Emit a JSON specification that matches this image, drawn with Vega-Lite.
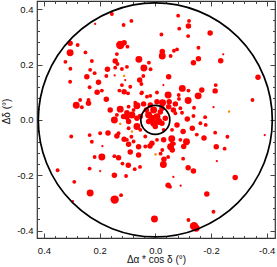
{
  "$schema": "https://vega.github.io/schema/vega-lite/v6.json",
  "width": 238,
  "height": 237,
  "autosize": "none",
  "padding": {"left": 37, "top": 1, "right": 2, "bottom": 29},
  "background": "white",
  "config": {
    "view": {"stroke": "#333333", "strokeWidth": 1.2},
    "font": "Liberation Sans",
    "axis": {"grid": false, "domain": false, "tickColor": "#444444", "tickWidth": 1, "labelFont": "Liberation Sans", "labelFontSize": 9.5, "labelColor": "#111111", "titleFont": "Liberation Sans", "titleFontSize": 10, "titleFontWeight": "normal", "titleColor": "#111111", "labelFlush": false, "labelOverlap": false}
  },
  "datasets": {
    "stars": [
      {"dra":0.156,"ddec":0.383,"flux":2,"cls":"red"},
      {"dra":0.216,"ddec":0.347,"flux":1,"cls":"red"},
      {"dra":0.114,"ddec":0.343,"flux":2,"cls":"red"},
      {"dra":0.086,"ddec":0.358,"flux":2,"cls":"red"},
      {"dra":0.306,"ddec":0.277,"flux":3,"cls":"red"},
      {"dra":0.279,"ddec":0.271,"flux":2,"cls":"red"},
      {"dra":0.126,"ddec":0.271,"flux":5,"cls":"red"},
      {"dra":0.112,"ddec":0.279,"flux":3,"cls":"red"},
      {"dra":0.100,"ddec":0.265,"flux":2,"cls":"red"},
      {"dra":0.306,"ddec":0.243,"flux":4,"cls":"red"},
      {"dra":0.251,"ddec":0.244,"flux":2,"cls":"red"},
      {"dra":0.138,"ddec":0.238,"flux":2,"cls":"red"},
      {"dra":0.144,"ddec":0.213,"flux":3,"cls":"red"},
      {"dra":0.059,"ddec":0.219,"flux":4,"cls":"red"},
      {"dra":0.323,"ddec":0.210,"flux":2,"cls":"red"},
      {"dra":0.228,"ddec":0.213,"flux":2,"cls":"red"},
      {"dra":0.136,"ddec":0.202,"flux":2,"cls":"red"},
      {"dra":0.305,"ddec":0.185,"flux":2,"cls":"red"},
      {"dra":0.172,"ddec":0.183,"flux":3,"cls":"red"},
      {"dra":0.144,"ddec":0.189,"flux":2,"cls":"red"},
      {"dra":0.120,"ddec":0.184,"flux":2,"cls":"red"},
      {"dra":0.102,"ddec":0.192,"flux":2,"cls":"red"},
      {"dra":0.234,"ddec":0.181,"flux":2,"cls":"red"},
      {"dra":0.218,"ddec":0.169,"flux":2,"cls":"red"},
      {"dra":0.112,"ddec":0.159,"flux":1,"cls":"orange"},
      {"dra":0.246,"ddec":0.156,"flux":3,"cls":"red"},
      {"dra":0.176,"ddec":0.159,"flux":2,"cls":"red"},
      {"dra":0.146,"ddec":0.161,"flux":1,"cls":"red"},
      {"dra":0.108,"ddec":0.144,"flux":1,"cls":"red"},
      {"dra":0.056,"ddec":0.144,"flux":3,"cls":"red"},
      {"dra":0.306,"ddec":0.138,"flux":2,"cls":"red"},
      {"dra":0.204,"ddec":0.136,"flux":3,"cls":"red"},
      {"dra":0.236,"ddec":0.118,"flux":2,"cls":"red"},
      {"dra":0.120,"ddec":0.126,"flux":2,"cls":"red"},
      {"dra":0.192,"ddec":0.106,"flux":2,"cls":"red"},
      {"dra":0.129,"ddec":0.106,"flux":2,"cls":"red"},
      {"dra":0.112,"ddec":0.102,"flux":3,"cls":"red"},
      {"dra":0.090,"ddec":0.120,"flux":2,"cls":"red"},
      {"dra":0.209,"ddec":0.100,"flux":3,"cls":"red"},
      {"dra":0.270,"ddec":0.072,"flux":2,"cls":"red"},
      {"dra":0.240,"ddec":0.072,"flux":2,"cls":"red"},
      {"dra":0.176,"ddec":0.075,"flux":3,"cls":"red"},
      {"dra":0.284,"ddec":0.053,"flux":4,"cls":"red"},
      {"dra":0.240,"ddec":0.060,"flux":3,"cls":"red"},
      {"dra":0.264,"ddec":0.046,"flux":2,"cls":"red"},
      {"dra":0.162,"ddec":0.036,"flux":3,"cls":"red"},
      {"dra":0.126,"ddec":0.039,"flux":4,"cls":"red"},
      {"dra":0.102,"ddec":0.026,"flux":3,"cls":"red"},
      {"dra":0.066,"ddec":0.051,"flux":4,"cls":"red"},
      {"dra":0.138,"ddec":0.018,"flux":2,"cls":"red"},
      {"dra":0.147,"ddec":0.000,"flux":4,"cls":"red"},
      {"dra":0.114,"ddec":0.012,"flux":3,"cls":"red"},
      {"dra":0.102,"ddec":0.010,"flux":3,"cls":"red"},
      {"dra":0.084,"ddec":0.018,"flux":4,"cls":"red"},
      {"dra":0.066,"ddec":0.006,"flux":3,"cls":"red"},
      {"dra":0.126,"ddec":-0.014,"flux":1,"cls":"orange"},
      {"dra":0.096,"ddec":-0.006,"flux":3,"cls":"red"},
      {"dra":0.066,"ddec":-0.024,"flux":4,"cls":"red"},
      {"dra":0.132,"ddec":-0.048,"flux":2,"cls":"red"},
      {"dra":0.198,"ddec":-0.048,"flux":2,"cls":"red"},
      {"dra":0.098,"ddec":0.096,"flux":2,"cls":"red"},
      {"dra":0.048,"ddec":0.099,"flux":2,"cls":"red"},
      {"dra":0.030,"ddec":0.084,"flux":2,"cls":"red"},
      {"dra":0.018,"ddec":0.087,"flux":2,"cls":"red"},
      {"dra":-0.006,"ddec":0.099,"flux":2,"cls":"red"},
      {"dra":-0.046,"ddec":0.090,"flux":4,"cls":"red"},
      {"dra":-0.084,"ddec":0.090,"flux":2,"cls":"red"},
      {"dra":0.072,"ddec":0.062,"flux":2,"cls":"red"},
      {"dra":0.042,"ddec":0.058,"flux":3,"cls":"red"},
      {"dra":0.018,"ddec":0.054,"flux":3,"cls":"red"},
      {"dra":-0.006,"ddec":0.066,"flux":3,"cls":"red"},
      {"dra":-0.026,"ddec":0.062,"flux":4,"cls":"red"},
      {"dra":-0.050,"ddec":0.066,"flux":3,"cls":"red"},
      {"dra":-0.072,"ddec":0.058,"flux":3,"cls":"red"},
      {"dra":-0.090,"ddec":0.042,"flux":2,"cls":"red"},
      {"dra":0.096,"ddec":0.048,"flux":2,"cls":"red"},
      {"dra":0.078,"ddec":0.036,"flux":2,"cls":"red"},
      {"dra":0.006,"ddec":0.036,"flux":4,"cls":"red"},
      {"dra":-0.024,"ddec":0.042,"flux":3,"cls":"red"},
      {"dra":-0.048,"ddec":0.048,"flux":3,"cls":"red"},
      {"dra":-0.072,"ddec":0.024,"flux":2,"cls":"red"},
      {"dra":-0.096,"ddec":0.026,"flux":2,"cls":"red"},
      {"dra":0.054,"ddec":0.012,"flux":3,"cls":"red"},
      {"dra":0.024,"ddec":0.018,"flux":4,"cls":"red"},
      {"dra":0.012,"ddec":0.006,"flux":4,"cls":"red"},
      {"dra":-0.006,"ddec":0.012,"flux":4,"cls":"red"},
      {"dra":-0.012,"ddec":-0.006,"flux":4,"cls":"red"},
      {"dra":0.006,"ddec":-0.012,"flux":4,"cls":"red"},
      {"dra":0.024,"ddec":-0.006,"flux":3,"cls":"red"},
      {"dra":-0.024,"ddec":-0.012,"flux":3,"cls":"red"},
      {"dra":0.000,"ddec":-0.024,"flux":3,"cls":"red"},
      {"dra":-0.036,"ddec":0.006,"flux":3,"cls":"red"},
      {"dra":-0.030,"ddec":-0.036,"flux":2,"cls":"red"},
      {"dra":-0.078,"ddec":-0.018,"flux":3,"cls":"red"},
      {"dra":-0.060,"ddec":-0.036,"flux":2,"cls":"red"},
      {"dra":0.084,"ddec":-0.042,"flux":1,"cls":"orange"},
      {"dra":0.096,"ddec":-0.030,"flux":2,"cls":"red"},
      {"dra":0.054,"ddec":-0.036,"flux":2,"cls":"red"},
      {"dra":0.102,"ddec":-0.072,"flux":2,"cls":"red"},
      {"dra":0.078,"ddec":-0.078,"flux":2,"cls":"red"},
      {"dra":0.036,"ddec":-0.060,"flux":2,"cls":"red"},
      {"dra":0.012,"ddec":-0.084,"flux":3,"cls":"red"},
      {"dra":-0.006,"ddec":-0.072,"flux":2,"cls":"red"},
      {"dra":-0.030,"ddec":-0.072,"flux":3,"cls":"red"},
      {"dra":-0.060,"ddec":-0.084,"flux":2,"cls":"red"},
      {"dra":-0.090,"ddec":-0.072,"flux":2,"cls":"red"},
      {"dra":-0.102,"ddec":-0.096,"flux":3,"cls":"red"},
      {"dra":0.036,"ddec":-0.096,"flux":2,"cls":"red"},
      {"dra":-0.018,"ddec":0.029,"flux":3,"cls":"red"},
      {"dra":0.032,"ddec":0.036,"flux":3,"cls":"red"},
      {"dra":-0.082,"ddec":0.377,"flux":2,"cls":"red"},
      {"dra":-0.121,"ddec":0.358,"flux":2,"cls":"red"},
      {"dra":-0.119,"ddec":0.340,"flux":3,"cls":"red"},
      {"dra":-0.086,"ddec":0.330,"flux":2,"cls":"red"},
      {"dra":-0.197,"ddec":0.314,"flux":3,"cls":"red"},
      {"dra":-0.022,"ddec":0.309,"flux":2,"cls":"red"},
      {"dra":-0.118,"ddec":0.303,"flux":2,"cls":"red"},
      {"dra":-0.155,"ddec":0.261,"flux":2,"cls":"red"},
      {"dra":-0.078,"ddec":0.255,"flux":2,"cls":"red"},
      {"dra":-0.067,"ddec":0.250,"flux":2,"cls":"red"},
      {"dra":-0.025,"ddec":0.247,"flux":3,"cls":"red"},
      {"dra":-0.025,"ddec":0.231,"flux":4,"cls":"red"},
      {"dra":-0.055,"ddec":0.231,"flux":2,"cls":"red"},
      {"dra":-0.244,"ddec":0.237,"flux":1,"cls":"red"},
      {"dra":-0.155,"ddec":0.221,"flux":3,"cls":"red"},
      {"dra":-0.235,"ddec":0.214,"flux":3,"cls":"red"},
      {"dra":0.023,"ddec":0.207,"flux":2,"cls":"red"},
      {"dra":-0.137,"ddec":0.207,"flux":3,"cls":"red"},
      {"dra":0.041,"ddec":0.188,"flux":4,"cls":"red"},
      {"dra":0.017,"ddec":0.183,"flux":2,"cls":"red"},
      {"dra":0.043,"ddec":0.159,"flux":2,"cls":"red"},
      {"dra":-0.048,"ddec":0.156,"flux":3,"cls":"red"},
      {"dra":-0.369,"ddec":0.154,"flux":3,"cls":"red"},
      {"dra":-0.029,"ddec":0.126,"flux":1,"cls":"red"},
      {"dra":0.050,"ddec":0.130,"flux":2,"cls":"red"},
      {"dra":-0.097,"ddec":0.114,"flux":4,"cls":"red"},
      {"dra":-0.119,"ddec":0.106,"flux":2,"cls":"red"},
      {"dra":-0.167,"ddec":0.108,"flux":3,"cls":"red"},
      {"dra":-0.217,"ddec":0.126,"flux":2,"cls":"red"},
      {"dra":-0.215,"ddec":0.105,"flux":3,"cls":"red"},
      {"dra":-0.154,"ddec":0.087,"flux":4,"cls":"red"},
      {"dra":0.050,"ddec":0.096,"flux":2,"cls":"red"},
      {"dra":-0.349,"ddec":0.072,"flux":2,"cls":"red"},
      {"dra":-0.085,"ddec":0.076,"flux":2,"cls":"red"},
      {"dra":-0.118,"ddec":0.070,"flux":4,"cls":"red"},
      {"dra":-0.139,"ddec":0.044,"flux":2,"cls":"red"},
      {"dra":-0.209,"ddec":0.046,"flux":1,"cls":"red"},
      {"dra":-0.265,"ddec":0.030,"flux":1,"cls":"orange"},
      {"dra":-0.065,"ddec":0.036,"flux":3,"cls":"red"},
      {"dra":-0.179,"ddec":0.010,"flux":2,"cls":"red"},
      {"dra":-0.115,"ddec":0.003,"flux":3,"cls":"red"},
      {"dra":-0.137,"ddec":0.014,"flux":2,"cls":"red"},
      {"dra":-0.181,"ddec":-0.018,"flux":2,"cls":"red"},
      {"dra":-0.133,"ddec":-0.030,"flux":3,"cls":"red"},
      {"dra":-0.100,"ddec":-0.042,"flux":3,"cls":"red"},
      {"dra":-0.215,"ddec":-0.046,"flux":2,"cls":"red"},
      {"dra":-0.162,"ddec":-0.012,"flux":2,"cls":"red"},
      {"dra":0.302,"ddec":-0.060,"flux":2,"cls":"red"},
      {"dra":0.236,"ddec":-0.055,"flux":2,"cls":"red"},
      {"dra":0.170,"ddec":-0.047,"flux":3,"cls":"red"},
      {"dra":0.138,"ddec":-0.058,"flux":3,"cls":"red"},
      {"dra":0.112,"ddec":-0.070,"flux":3,"cls":"red"},
      {"dra":0.086,"ddec":-0.061,"flux":2,"cls":"red"},
      {"dra":0.228,"ddec":-0.079,"flux":2,"cls":"red"},
      {"dra":0.096,"ddec":-0.088,"flux":3,"cls":"red"},
      {"dra":0.190,"ddec":-0.095,"flux":1,"cls":"red"},
      {"dra":0.060,"ddec":-0.097,"flux":3,"cls":"red"},
      {"dra":0.218,"ddec":-0.134,"flux":2,"cls":"red"},
      {"dra":0.192,"ddec":-0.134,"flux":4,"cls":"red"},
      {"dra":0.147,"ddec":-0.131,"flux":2,"cls":"red"},
      {"dra":0.132,"ddec":-0.137,"flux":3,"cls":"red"},
      {"dra":0.090,"ddec":-0.116,"flux":3,"cls":"red"},
      {"dra":0.060,"ddec":-0.127,"flux":3,"cls":"red"},
      {"dra":0.118,"ddec":-0.158,"flux":2,"cls":"red"},
      {"dra":0.097,"ddec":-0.164,"flux":3,"cls":"red"},
      {"dra":0.236,"ddec":-0.176,"flux":2,"cls":"red"},
      {"dra":0.198,"ddec":-0.185,"flux":1,"cls":"red"},
      {"dra":0.074,"ddec":-0.178,"flux":2,"cls":"red"},
      {"dra":0.351,"ddec":-0.182,"flux":2,"cls":"red"},
      {"dra":0.147,"ddec":-0.200,"flux":3,"cls":"red"},
      {"dra":0.105,"ddec":-0.203,"flux":2,"cls":"red"},
      {"dra":0.291,"ddec":-0.224,"flux":2,"cls":"red"},
      {"dra":0.123,"ddec":-0.272,"flux":2,"cls":"red"},
      {"dra":0.234,"ddec":-0.264,"flux":4,"cls":"red"},
      {"dra":0.146,"ddec":-0.288,"flux":5,"cls":"red"},
      {"dra":0.296,"ddec":-0.294,"flux":1,"cls":"red"},
      {"dra":0.019,"ddec":-0.094,"flux":3,"cls":"red"},
      {"dra":-0.059,"ddec":-0.068,"flux":4,"cls":"red"},
      {"dra":-0.067,"ddec":-0.086,"flux":2,"cls":"red"},
      {"dra":-0.112,"ddec":-0.079,"flux":4,"cls":"red"},
      {"dra":-0.149,"ddec":-0.053,"flux":2,"cls":"red"},
      {"dra":-0.175,"ddec":-0.065,"flux":3,"cls":"red"},
      {"dra":-0.259,"ddec":-0.061,"flux":2,"cls":"red"},
      {"dra":-0.393,"ddec":-0.055,"flux":1,"cls":"red"},
      {"dra":-0.025,"ddec":-0.109,"flux":2,"cls":"red"},
      {"dra":-0.055,"ddec":-0.097,"flux":4,"cls":"red"},
      {"dra":-0.061,"ddec":-0.109,"flux":3,"cls":"red"},
      {"dra":-0.019,"ddec":-0.122,"flux":2,"cls":"red"},
      {"dra":-0.001,"ddec":-0.125,"flux":1,"cls":"orange"},
      {"dra":-0.046,"ddec":-0.134,"flux":2,"cls":"red"},
      {"dra":-0.031,"ddec":-0.142,"flux":3,"cls":"red"},
      {"dra":-0.029,"ddec":-0.161,"flux":4,"cls":"red"},
      {"dra":0.055,"ddec":-0.170,"flux":2,"cls":"red"},
      {"dra":-0.100,"ddec":-0.140,"flux":2,"cls":"red"},
      {"dra":-0.118,"ddec":-0.173,"flux":3,"cls":"red"},
      {"dra":-0.219,"ddec":-0.097,"flux":3,"cls":"red"},
      {"dra":-0.249,"ddec":-0.104,"flux":2,"cls":"red"},
      {"dra":-0.221,"ddec":-0.149,"flux":1,"cls":"red"},
      {"dra":-0.137,"ddec":-0.185,"flux":3,"cls":"red"},
      {"dra":-0.065,"ddec":-0.206,"flux":1,"cls":"red"},
      {"dra":-0.046,"ddec":-0.236,"flux":3,"cls":"red"},
      {"dra":-0.053,"ddec":-0.242,"flux":2,"cls":"red"},
      {"dra":-0.091,"ddec":-0.238,"flux":1,"cls":"red"},
      {"dra":-0.287,"ddec":-0.208,"flux":3,"cls":"red"},
      {"dra":-0.185,"ddec":-0.268,"flux":3,"cls":"red"},
      {"dra":-0.209,"ddec":-0.332,"flux":2,"cls":"red"},
      {"dra":0.003,"ddec":-0.358,"flux":4,"cls":"red"},
      {"dra":-0.119,"ddec":-0.362,"flux":2,"cls":"red"},
      {"dra":-0.139,"ddec":-0.384,"flux":5,"cls":"red"},
      {"dra":-0.147,"ddec":-0.392,"flux":4,"cls":"red"}
    ],
    "centre": [{"dra": 0, "ddec": 0}]
  },
  "layer": [
    {
      "data": {"name": "stars"},
      "mark": {"type": "circle", "opacity": 1, "strokeWidth": 0},
      "encoding": {
        "x": {"field": "dra", "type": "quantitative",
          "scale": {"domain": [-0.43, 0.425], "reverse": true, "nice": false, "zero": false},
          "axis": {"orient": "bottom", "values": [-0.4, -0.2, 0, 0.2, 0.4], "tickSize": -5, "labelPadding": 12,
            "labelExpr": "(datum.value < -0.001 ? '-' : '') + format(abs(datum.value), '.1f')",
            "title": "Δα * cos δ (°)", "titleY": 21.5, "titleBaseline": "middle"}},
        "y": {"field": "ddec", "type": "quantitative",
          "scale": {"domain": [-0.427, 0.43], "nice": false, "zero": false},
          "axis": {"orient": "left", "values": [-0.4, -0.2, 0, 0.2, 0.4], "tickSize": -5, "labelPadding": 9,
            "labelExpr": "(datum.value < -0.001 ? '-' : '') + format(abs(datum.value), '.1f')",
            "title": "Δδ (°)", "titleAngle": 270, "titleX": -31, "titleY": 110, "titleBaseline": "middle", "titleAlign": "center"}},
        "size": {"field": "flux", "type": "quantitative", "scale": {"domain": [1, 2, 3, 4, 5], "range": [5, 15, 30, 48, 70]}, "legend": null},
        "color": {"field": "cls", "type": "nominal", "scale": {"domain": ["red", "orange"], "range": ["#ff0000", "#ff8c00"]}, "legend": null}
      }
    },
    {
      "data": {"name": "centre"},
      "mark": {"type": "point", "shape": "circle", "filled": false, "opacity": 1, "stroke": "#000000", "strokeWidth": 1.7, "size": 54756},
      "encoding": {
        "x": {"field": "dra", "type": "quantitative", "scale": {"domain": [-0.43, 0.425], "reverse": true, "nice": false, "zero": false},
          "axis": {"orient": "top", "values": [-0.4, -0.2, 0, 0.2, 0.4], "tickSize": -5, "labels": false, "title": null}},
        "y": {"field": "ddec", "type": "quantitative", "scale": {"domain": [-0.427, 0.43], "nice": false, "zero": false},
          "axis": {"orient": "right", "values": [-0.4, -0.2, 0, 0.2, 0.4], "tickSize": -5, "labels": false, "title": null}}
      }
    },
    {
      "data": {"name": "centre"},
      "mark": {"type": "point", "shape": "circle", "filled": false, "opacity": 1, "stroke": "#000000", "strokeWidth": 1.7, "size": 841},
      "encoding": {
        "x": {"field": "dra", "type": "quantitative", "scale": {"domain": [-0.43, 0.425], "reverse": true, "nice": false, "zero": false},
          "axis": {"orient": "bottom", "values": [-0.36, -0.32, -0.28, -0.24, -0.16, -0.12, -0.08, -0.04, 0.04, 0.08, 0.12, 0.16, 0.24, 0.28, 0.32, 0.36], "tickSize": -2.5, "labels": false, "title": null}},
        "y": {"field": "ddec", "type": "quantitative", "scale": {"domain": [-0.427, 0.43], "nice": false, "zero": false},
          "axis": {"orient": "left", "values": [-0.36, -0.32, -0.28, -0.24, -0.16, -0.12, -0.08, -0.04, 0.04, 0.08, 0.12, 0.16, 0.24, 0.28, 0.32, 0.36], "tickSize": -2.5, "labels": false, "title": null}}
      }
    },
    {
      "data": {"name": "stars"},
      "transform": [{"filter": "datum.cls == 'orange'"}],
      "mark": {"type": "circle", "opacity": 1, "strokeWidth": 0, "color": "#ff8c00", "size": 5},
      "encoding": {
        "x": {"field": "dra", "type": "quantitative", "scale": {"domain": [-0.43, 0.425], "reverse": true, "nice": false, "zero": false},
          "axis": {"orient": "top", "values": [-0.36, -0.32, -0.28, -0.24, -0.16, -0.12, -0.08, -0.04, 0.04, 0.08, 0.12, 0.16, 0.24, 0.28, 0.32, 0.36], "tickSize": -2.5, "labels": false, "title": null}},
        "y": {"field": "ddec", "type": "quantitative", "scale": {"domain": [-0.427, 0.43], "nice": false, "zero": false},
          "axis": {"orient": "right", "values": [-0.36, -0.32, -0.28, -0.24, -0.16, -0.12, -0.08, -0.04, 0.04, 0.08, 0.12, 0.16, 0.24, 0.28, 0.32, 0.36], "tickSize": -2.5, "labels": false, "title": null}}
      }
    }
  ],
  "resolve": {"axis": {"x": "independent", "y": "independent"}}
}
